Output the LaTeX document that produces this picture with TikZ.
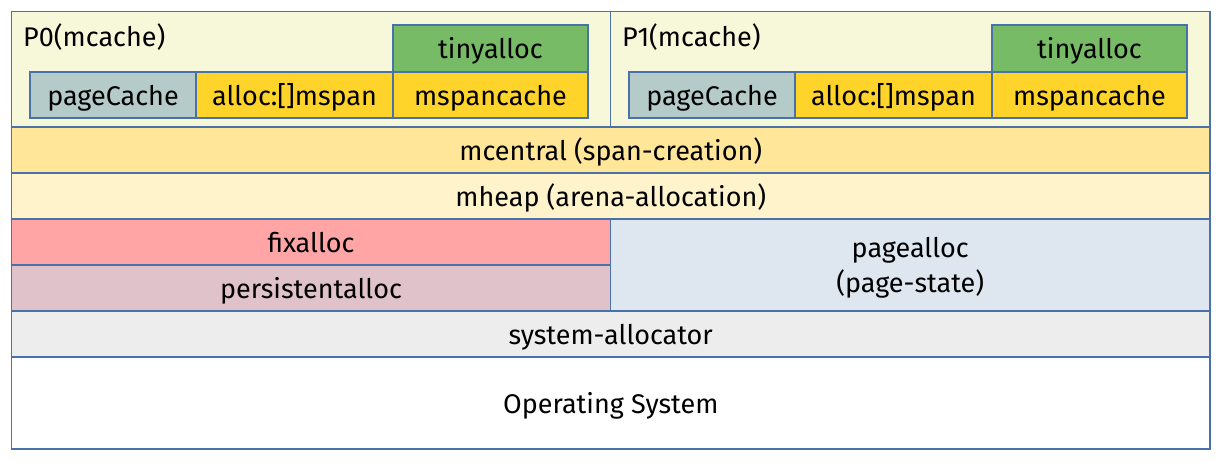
\documentclass[tikz,border=0pt]{standalone}
\usepackage{fontspec}
\setmainfont{Fira Sans}
\definecolor{bordc}{HTML}{4A72A8}
\definecolor{pbg}{HTML}{F7F7DA}
\definecolor{tinyc}{HTML}{77BB66}
\definecolor{msc}{HTML}{FFD42A}
\definecolor{pcc}{HTML}{B4CBCA}
\definecolor{mcc}{HTML}{FFE699}
\definecolor{mhc}{HTML}{FFF3CC}
\definecolor{fixc}{HTML}{FFA5A5}
\definecolor{perc}{HTML}{DFC2CA}
\definecolor{pac}{HTML}{DEE6F0}
\definecolor{sysc}{HTML}{EDEDED}
\begin{document}
\begin{tikzpicture}[x=1pt,y=-1pt,
  cellbase/.style={draw=bordc, line width=1.3pt, inner sep=0pt, rectangle,
    font=\fontsize{27}{35}\selectfont, text=black},
  cell/.style={cellbase, text height=24pt, text depth=4pt},
  lbl/.style={inner sep=0pt, font=\fontsize{27}{35}\selectfont, text=black}]
\useasboundingbox (0,0) rectangle (1221,461);
\node[cell, fill=pbg, minimum width=599pt, minimum height=115.5pt] (p0) at (311,69.25) {};
\node[cell, fill=pbg, minimum width=599.5pt, minimum height=115.5pt] (p1) at (910.25,69.25) {};
\node[lbl, anchor=base west] (p0l) at (23,46) {P0(mcache)};
\node[lbl, anchor=base west] (p1l) at (622,46) {P1(mcache)};
\node[cell, fill=tinyc, minimum width=195pt, minimum height=47pt] (tiny0) at (490.5,48.5) {tinyalloc};
\node[cell, fill=pcc, minimum width=166pt, minimum height=46pt] (pc0) at (113,95) {pageCache};
\node[cell, fill=msc, minimum width=197pt, minimum height=46pt] (al0) at (294.5,95) {alloc:[]mspan};
\node[cell, fill=msc, minimum width=195pt, minimum height=46pt] (ms0) at (490.5,95) {mspancache};
\node[cell, fill=tinyc, minimum width=195pt, minimum height=47pt] (tiny1) at (1089.5,48.5) {tinyalloc};
\node[cell, fill=pcc, minimum width=166pt, minimum height=46pt] (pc1) at (712,95) {pageCache};
\node[cell, fill=msc, minimum width=197pt, minimum height=46pt] (al1) at (893.5,95) {alloc:[]mspan};
\node[cell, fill=msc, minimum width=195pt, minimum height=46pt] (ms1) at (1089.5,95) {mspancache};
\node[cell, fill=mcc, minimum width=1198.5pt, minimum height=46pt] (mc) at (610.75,150) {mcentral (span-creation)};
\node[cell, fill=mhc, minimum width=1198.5pt, minimum height=46pt] (mh) at (610.75,196) {mheap (arena-allocation)};
\node[cell, fill=fixc, minimum width=599pt, minimum height=46pt] (fix) at (311,242) {fixalloc};
\node[cell, fill=perc, minimum width=599pt, minimum height=46pt] (per) at (311,288) {persistentalloc};
\node[cellbase, fill=pac, minimum width=599.5pt, minimum height=92pt] (pa) at (910.25,265) {};
\node[lbl, align=center] (pat) at (910.25,268) {pagealloc\\(page-state)};
\node[cell, fill=sysc, minimum width=1198.5pt, minimum height=46pt] (sys) at (610.75,334) {system-allocator};
\node[cell, fill=white, minimum width=1198.5pt, minimum height=92pt] (os) at (610.75,403) {Operating System};
\end{tikzpicture}
\end{document}
